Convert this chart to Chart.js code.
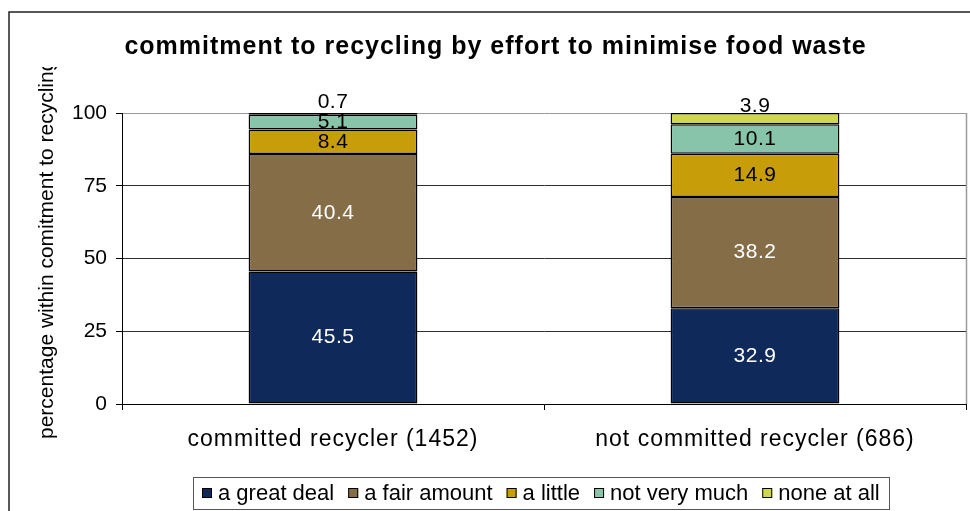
<!DOCTYPE html>
<html><head><meta charset="utf-8">
<script src="https://cdn.jsdelivr.net/npm/chart.js@4.4.1/dist/chart.umd.min.js"></script>
<style>html,body{margin:0;padding:0;background:#fff;} canvas{display:block;}</style>
</head><body>
<canvas id="c" width="970" height="511"></canvas>
<script>
const titleText = 'commitment to recycling by effort to minimise food waste';
const yAxisTitle = 'percentage within comitment to recycling';
const categories = ['committed recycler (1452)', 'not committed recycler (686)'];
const seriesNames = ['a great deal', 'a fair amount', 'a little', 'not very much', 'none at all'];
const aGreatDeal = [45.5, 32.9];
const aFairAmount = [40.4, 38.2];
const aLittle = [8.4, 14.9];
const notVeryMuch = [5.1, 10.1];
const noneAtAll = [0.7, 3.9];
const yTickValues = [0, 25, 50, 75, 100];

const seriesValues = [aGreatDeal, aFairAmount, aLittle, notVeryMuch, noneAtAll];
const seriesColors = ['#10295B', '#856D47', '#C89D0A', '#88C4AA', '#CFD84C'];
const labelColors = ['#ffffff', '#ffffff', '#000000', '#000000', '#000000'];
const FONT = "'Liberation Sans', Arial, sans-serif";

class PlainLinear extends Chart.LinearScale {
  drawLabels(ca) { const c = this.ctx; c.save(); c.letterSpacing = '0px'; super.drawLabels(ca); c.restore(); }
}
PlainLinear.id = 'plainLinear';
Chart.register(PlainLinear);

const framePlugin = {
  id: 'frame',
  beforeDraw(chart) {
    const c = chart.ctx;
    c.save();
    c.fillStyle = '#fff';
    c.fillRect(0, 0, chart.width, chart.height);
    c.strokeStyle = '#222';
    c.lineWidth = 1.5;
    c.strokeRect(9, 12, 1200, 1200);
    c.restore();
    c.letterSpacing = '1px';
  },
  beforeDatasetsDraw(chart) {
    const a = chart.chartArea, c = chart.ctx;
    c.save();
    c.strokeStyle = '#9a9a9a';
    c.lineWidth = 1.5;
    c.beginPath();
    c.moveTo(Math.round(a.right) + 0.5, a.top);
    c.lineTo(Math.round(a.right) + 0.5, a.bottom);
    c.stroke();
    c.restore();
  },
  afterDatasetsDraw(chart) {
    const c = chart.ctx;
    chart.data.datasets.forEach((ds, i) => {
      const meta = chart.getDatasetMeta(i);
      meta.data.forEach((el, j) => {
        const top = Math.min(el.y, el.base), bottom = Math.max(el.y, el.base);
        const h = bottom - top;
        let cy = (top + bottom) / 2;
        c.save();
        c.letterSpacing = '0.5px';
        if (h < 14) {
          cy -= 12;
          c.beginPath(); c.rect(0, 0, chart.width, top); c.clip();
        }
        c.font = '21px ' + FONT;
        c.fillStyle = labelColors[i];
        c.textAlign = 'center';
        c.textBaseline = 'middle';
        c.fillText(ds.data[j].toFixed(1), el.x, cy);
        c.restore();
      });
    });
  },
  afterDraw(chart) {
    const c = chart.ctx;
    // y axis title (clipped at top like the original)
    c.save();
    c.letterSpacing = '0px';
    c.beginPath(); c.rect(0, 67, 118, 440); c.clip();
    c.translate(53, 439);
    c.rotate(-Math.PI / 2);
    c.font = '21px ' + FONT;
    c.fillStyle = '#000';
    c.textAlign = 'left';
    c.textBaseline = 'alphabetic';
    c.fillText(yAxisTitle, 0, 0);
    c.restore();

    // legend
    c.save();
    c.letterSpacing = '0px';
    c.font = '22px ' + FONT;
    const mk = 10, gapT = 6, gapI = 14, pad = 9;
    const items = chart.data.datasets.map((d) => ({ label: d.label, color: d.backgroundColor, w: c.measureText(d.label).width }));
    let total = pad * 2;
    items.forEach((it, i) => { total += mk + gapT + it.w + (i < items.length - 1 ? gapI : 0); });
    const cx = 541;
    const bx = Math.round(cx - total / 2), by = 477, bh = 32;
    c.fillStyle = '#fff';
    c.fillRect(bx, by, total, bh);
    c.strokeStyle = '#555';
    c.lineWidth = 1;
    c.strokeRect(bx + 0.5, by + 0.5, Math.round(total), bh);
    let x = bx + pad;
    const my = by + bh / 2;
    items.forEach((it) => {
      c.fillStyle = it.color;
      c.fillRect(x, my - mk / 2, mk, mk);
      c.strokeStyle = '#000';
      c.strokeRect(x + 0.5, my - mk / 2 + 0.5, mk - 1, mk - 1);
      x += mk + gapT;
      c.fillStyle = '#000';
      c.textBaseline = 'middle';
      c.textAlign = 'left';
      c.fillText(it.label, x, my + 1);
      x += it.w + gapI;
    });
    c.restore();
  }
};

const chart = new Chart(document.getElementById('c'), {
  type: 'bar',
  data: {
    labels: categories,
    datasets: seriesValues.map((vals, i) => ({
      label: seriesNames[i],
      data: vals,
      backgroundColor: seriesColors[i],
      borderColor: '#000',
      borderWidth: 1.5,
      borderSkipped: false,
      categoryPercentage: 1,
      barPercentage: 0.4
    }))
  },
  options: {
    responsive: false,
    animation: false,
    devicePixelRatio: 1,
    layout: { padding: { left: 25, right: 4, top: 20, bottom: 0 } },
    plugins: {
      legend: { display: false },
      tooltip: { enabled: false },
      title: {
        display: true,
        text: titleText,
        color: '#000',
        font: { family: FONT, size: 25, weight: 'bold' },
        padding: { top: 12, bottom: 51 }
      }
    },
    scales: {
      x: {
        stacked: true,
        offset: true,
        grid: { display: true, drawOnChartArea: false, drawTicks: true, tickLength: 6, color: '#000', offset: true },
        border: { display: true, color: '#000', width: 1 },
        ticks: { color: '#000', font: { family: FONT, size: 23 }, padding: 16, autoSkip: false, maxRotation: 0 },
        afterFit(s) { s.height = 107; }
      },
      y: {
        type: 'plainLinear',
        stacked: true,
        min: 0,
        max: 100,
        afterBuildTicks(s) { s.ticks = yTickValues.map(v => ({ value: v })); },
        grid: {
          color: (ctx) => (ctx.tick && ctx.tick.value === 100 ? '#9a9a9a' : '#2e2e2e'),
          tickColor: '#000',
          tickLength: 6,
          lineWidth: 1
        },
        border: { display: true, color: '#000', width: 1 },
        ticks: { color: '#000', font: { family: FONT, size: 21 }, padding: 9 },
        afterFit(s) { s.width = 97; }
      }
    }
  },
  plugins: [framePlugin]
});
</script>
</body></html>
